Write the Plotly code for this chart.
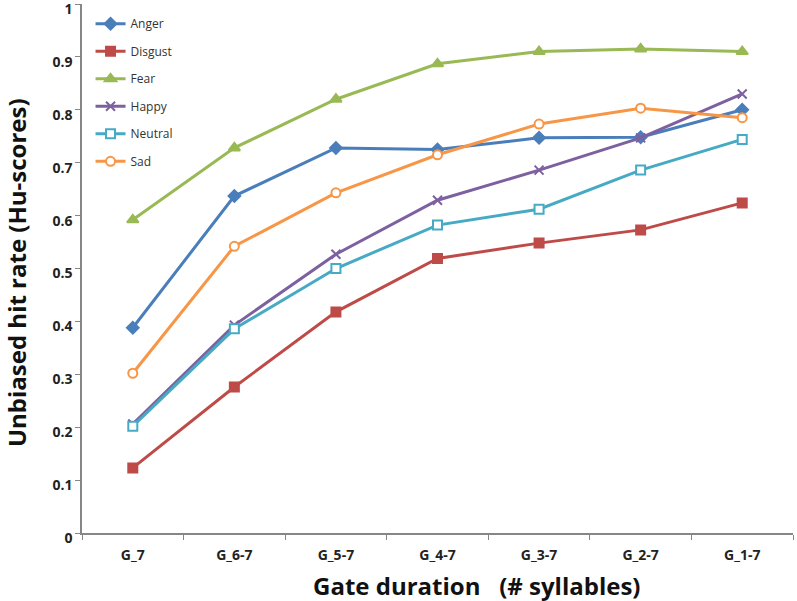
import plotly.graph_objects as go

categories = ["G_7", "G_6-7", "G_5-7", "G_4-7", "G_3-7", "G_2-7", "G_1-7"]
anger = [0.388, 0.637, 0.728, 0.725, 0.747, 0.748, 0.800]
disgust = [0.123, 0.276, 0.418, 0.519, 0.548, 0.573, 0.624]
fear = [0.592, 0.728, 0.820, 0.887, 0.910, 0.915, 0.910]
happy = [0.206, 0.393, 0.527, 0.629, 0.686, 0.747, 0.830]
neutral = [0.202, 0.386, 0.500, 0.582, 0.612, 0.686, 0.744]
sad = [0.302, 0.542, 0.643, 0.715, 0.773, 0.803, 0.785]
y_ticks = [0, 0.1, 0.2, 0.3, 0.4, 0.5, 0.6, 0.7, 0.8, 0.9, 1]
y_tick_text = ["0", "0.1", "0.2", "0.3", "0.4", "0.5", "0.6", "0.7", "0.8", "0.9", "1"]
x_title = "Gate duration\u00a0\u00a0\u00a0(# syllables)"
y_title = "Unbiased hit rate (Hu-scores)"

series = [
    ("Anger", anger, "#4A7EBB", "diamond", "#4A7EBB", 9),
    ("Disgust", disgust, "#BE4B48", "square", "#BE4B48", 9),
    ("Fear", fear, "#98B954", "triangle-up", "#98B954", 10),
    ("Happy", happy, "#7D60A0", "x-thin", "#7D60A0", 9),
    ("Neutral", neutral, "#46AAC5", "square", "white", 9),
    ("Sad", sad, "#F79646", "circle", "white", 9),
]

fig = go.Figure()
for name, vals, color, sym, fill, size in series:
    fig.add_trace(go.Scatter(
        x=categories, y=vals, name=name, mode="lines+markers",
        legendgroup=name,
        line=dict(color=color, width=3),
        marker=dict(symbol=sym, size=size, color=fill,
                    line=dict(color=color, width=2)),
    ))

fig.add_annotation(xref="paper", yref="paper", x=0.556, y=-0.100,
                   xanchor="center", yanchor="middle", showarrow=False,
                   text="<b>%s</b>" % x_title, font=dict(size=24, color="#111"))
fig.add_annotation(xref="paper", yref="paper", x=-0.093, y=0.493,
                   xanchor="center", yanchor="middle", showarrow=False, textangle=-90,
                   text="<b>%s</b>" % y_title, font=dict(size=24, color="#111"))

fig.update_layout(
    width=797, height=601,
    margin=dict(l=82, r=4, t=4, b=68),
    paper_bgcolor="white", plot_bgcolor="white",
    font=dict(family="Open Sans, Liberation Sans, sans-serif", color="#222"),
    showlegend=True,
    legend=dict(x=0.012, y=0.99, xanchor="left", yanchor="top",
                font=dict(size=12, color="#333"), tracegroupgap=8.5,
                bgcolor="rgba(0,0,0,0)", itemwidth=30),
    xaxis=dict(
        type="category", range=[-0.5, 6.5], showgrid=False, automargin=False,
        showline=True, linecolor="#868686", linewidth=1.5,
        ticks="outside", tickson="boundaries", ticklen=5, tickcolor="#868686",
        tickvals=categories, ticktext=["<b>%s</b>" % c for c in categories],
        tickfont=dict(size=14, color="#222"), ticklabelstandoff=8,
    ),
    yaxis=dict(
        range=[0, 1], showgrid=False, zeroline=False, automargin=False,
        showline=True, linecolor="#868686", linewidth=1.5,
        ticks="outside", ticklen=5, tickcolor="#868686",
        tickvals=y_ticks, ticktext=["<b>%s</b>" % t for t in y_tick_text],
        tickfont=dict(size=14, color="#222"), ticklabeloverflow="allow",
        ticklabelshift=5,
    ),
)

fig.write_html("out.html", config={"displayModeBar": False},
               post_script="document.body.style.margin='0';")
